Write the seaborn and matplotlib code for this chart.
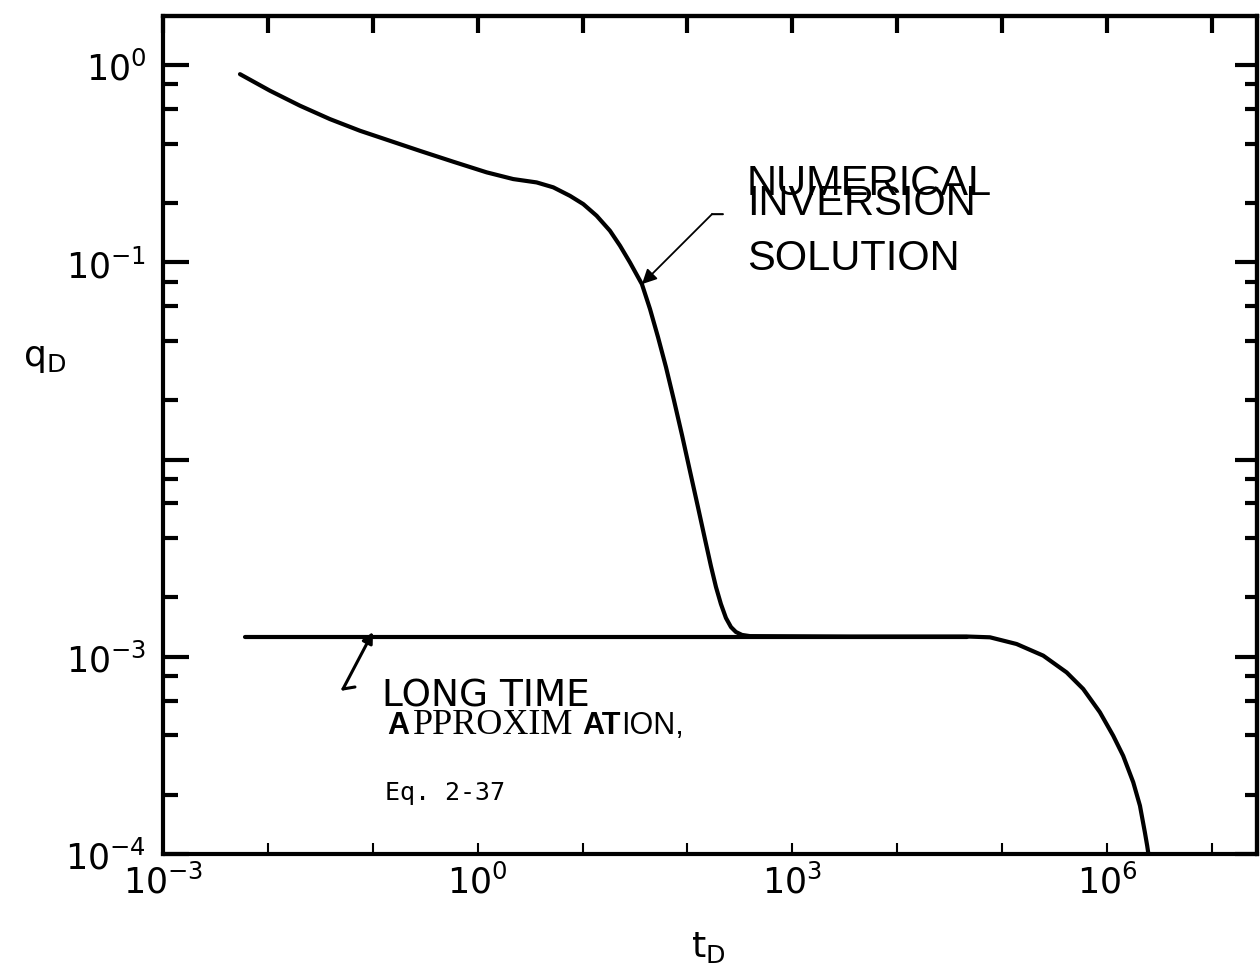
import numpy as np
import pandas as pd
import matplotlib
matplotlib.use("Agg")
import matplotlib.pyplot as plt
import seaborn as sns
from matplotlib.ticker import FixedLocator, NullLocator, FixedFormatter

# ---- data (log10 values) ----
num_log_t = [-2.266, -1.980, -1.694, -1.408, -1.122, -0.836, -0.550, -0.233, 0.086, 0.339,
             0.562, 0.721, 0.880, 1.007, 1.134, 1.261, 1.357, 1.452, 1.566, 1.643,
             1.719, 1.795, 1.871, 1.948, 2.024, 2.100, 2.167, 2.224, 2.272, 2.319,
             2.367, 2.415, 2.462, 2.520, 2.596, 3.549, 4.662, 4.884, 5.138, 5.392,
             5.615, 5.773, 5.932, 6.059, 6.154, 6.250, 6.314, 6.361, 6.383, 6.399]
num_log_q = [-0.045, -0.129, -0.205, -0.273, -0.332, -0.383, -0.434, -0.489, -0.543, -0.577,
             -0.594, -0.619, -0.662, -0.704, -0.763, -0.839, -0.915, -1.000, -1.110, -1.236,
             -1.378, -1.530, -1.698, -1.875, -2.058, -2.240, -2.403, -2.540, -2.646, -2.732,
             -2.803, -2.849, -2.874, -2.889, -2.895, -2.897, -2.897, -2.901, -2.935, -2.994,
             -3.079, -3.163, -3.281, -3.400, -3.502, -3.636, -3.755, -3.890, -3.958, -4.015]
long_log_t = [-2.218, 4.662]
long_log_q = [-2.897, -2.897]

x_major = [1e-3, 1e-2, 1e-1, 1e0, 1e1, 1e2, 1e3, 1e4, 1e5, 1e6, 1e7]
x_labels = ["$10^{-3}$", "", "", "$10^{0}$", "", "", "$10^{3}$", "", "", "$10^{6}$", ""]
y_major = [1e-4, 1e-3, 1e-2, 1e-1, 1e0]
y_labels = ["$10^{-4}$", "$10^{-3}$", "", "$10^{-1}$", "$10^{0}$"]
y_minor = [m * d for d in [1e-4, 1e-3, 1e-2, 1e-1] for m in (2, 4, 6, 8)]

numerical = pd.DataFrame({"t": 10 ** np.array(num_log_t), "q": 10 ** np.array(num_log_q)})
longtime = pd.DataFrame({"t": 10 ** np.array(long_log_t), "q": 10 ** np.array(long_log_q)})

sns.set_style("ticks")
plt.rcParams["font.family"] = ["DejaVu Sans"]
plt.rcParams["mathtext.default"] = "regular"
for key in ["text.color", "axes.labelcolor", "xtick.color", "ytick.color",
            "xtick.labelcolor", "ytick.labelcolor", "axes.edgecolor"]:
    plt.rcParams[key] = "black"

fig = plt.figure(figsize=(12.6, 9.78), dpi=100)
ax = fig.add_axes([163 / 1260, 1 - 855 / 978, (1257 - 163) / 1260, (855 - 17) / 978])

sns.lineplot(data=numerical, x="t", y="q", ax=ax, color="black", lw=3,
             estimator=None, sort=False, solid_capstyle="round", solid_joinstyle="round")
sns.lineplot(data=longtime, x="t", y="q", ax=ax, color="black", lw=3,
             estimator=None, sort=False, solid_capstyle="round")

ax.set_xscale("log")
ax.set_yscale("log")
ax.set_xlim(1e-3, 10 ** 7.43)
ax.set_ylim(1e-4, 10 ** 0.25)
ax.set_xlabel("")
ax.set_ylabel("")

for s in ax.spines.values():
    s.set_linewidth(3)
    s.set_color("black")
    s.set_visible(True)

ax.xaxis.set_major_locator(FixedLocator(x_major))
ax.xaxis.set_major_formatter(FixedFormatter(x_labels))
ax.xaxis.set_minor_locator(NullLocator())
ax.yaxis.set_major_locator(FixedLocator(y_major))
ax.yaxis.set_major_formatter(FixedFormatter(y_labels))
ax.yaxis.set_minor_locator(FixedLocator(y_minor))
ax.yaxis.set_minor_formatter(FixedFormatter([""] * len(y_minor)))

ax.tick_params(axis="x", which="major", direction="in", length=8, width=1.5,
               labelsize=25, pad=7, bottom=True, top=False, colors="black")
ax.tick_params(axis="y", which="major", direction="in", length=19, width=3,
               labelsize=25, pad=12, left=True, right=False, colors="black")
ax.tick_params(axis="y", which="minor", direction="in", length=11, width=3,
               left=True, right=False, colors="black")

# top and right tick rows
secx = ax.secondary_xaxis("top")
secx.xaxis.set_major_locator(FixedLocator(x_major))
secx.xaxis.set_minor_locator(NullLocator())
secx.tick_params(axis="x", which="major", direction="in", length=12, width=3,
                 labeltop=False, colors="black")
secx.spines["top"].set_linewidth(3)

secy = ax.secondary_yaxis("right")
secy.yaxis.set_major_locator(FixedLocator(y_major))
secy.yaxis.set_minor_locator(FixedLocator(y_minor))
secy.yaxis.set_minor_formatter(FixedFormatter([""] * len(y_minor)))
secy.tick_params(axis="y", which="major", direction="in", length=16, width=3,
                 labelright=False, colors="black")
secy.tick_params(axis="y", which="minor", direction="in", length=9, width=3,
                 labelright=False, colors="black")
secy.spines["right"].set_linewidth(3)

# axis titles
fig.text(45 / 1260, 1 - 358 / 978, "q$_{D}$", fontsize=26, ha="center", va="center",
         color="black")
fig.text(708 / 1260, 1 - 948 / 978, "t$_{D}$", fontsize=26, ha="center", va="center",
         color="black")

# annotation: numerical inversion solution
sans = ["Liberation Sans", "DejaVu Sans"]
ax.text(10 ** 2.567, 10 ** -0.653, "NUMERICAL", fontsize=30, family=sans, va="baseline")
ax.text(10 ** 2.567, 10 ** -0.755, "INVERSION", fontsize=30, family=sans, va="baseline")
ax.text(10 ** 2.567, 10 ** -1.034, "SOLUTION", fontsize=30, family=sans, va="baseline")
ax.annotate("", xy=(10 ** 2.234, 10 ** -0.755), xytext=(10 ** 2.338, 10 ** -0.755),
            arrowprops=dict(arrowstyle="-", color="black", lw=1.5, shrinkA=0, shrinkB=0))
ax.annotate("", xy=(10 ** 1.566, 10 ** -1.110), xytext=(10 ** 2.234, 10 ** -0.755),
            arrowprops=dict(arrowstyle="-|>", color="black", lw=1.3, mutation_scale=22,
                            shrinkA=0, shrinkB=0))

# annotation: long time approximation
ax.annotate("", xy=(10 ** -1.284, 10 ** -3.163), xytext=(10 ** -1.170, 10 ** -3.153),
            arrowprops=dict(arrowstyle="-", color="black", lw=2.2, shrinkA=0, shrinkB=0))
ax.annotate("", xy=(10 ** -0.998, 10 ** -2.874), xytext=(10 ** -1.284, 10 ** -3.163),
            arrowprops=dict(arrowstyle="-|>", color="black", lw=2.2, mutation_scale=16,
                            shrinkA=0, shrinkB=0))
ax.text(10 ** -0.912, 10 ** -3.245, "LONG TIME", fontsize=27, family=["DejaVu Sans"],
        va="baseline")
ax.text(10 ** -0.865, 10 ** -3.385, "A", fontsize=22, family=sans, weight="bold",
        va="baseline")
ax.text(10 ** -0.617, 10 ** -3.385, "PPROXIM", fontsize=26,
        family=["Liberation Serif", "DejaVu Serif"], va="baseline")
ax.text(10 ** 1.000, 10 ** -3.385, "AT", fontsize=22, family=sans, weight="bold",
        va="baseline")
ax.text(10 ** 1.370, 10 ** -3.385, "ION,", fontsize=22, family=sans, va="baseline")
ax.text(10 ** -0.884, 10 ** -3.721, "Eq. 2-37", fontsize=18,
        family=["DejaVu Sans Mono"], va="baseline")

fig.savefig("out.png", dpi=100, facecolor="white")
